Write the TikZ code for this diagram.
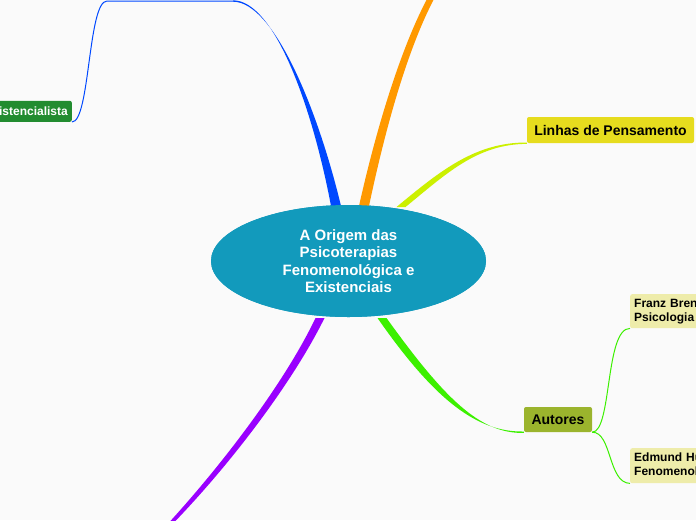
\documentclass[tikz,border=0pt]{standalone}
\usepackage{fontspec}
\setmainfont{Liberation Sans}
\usetikzlibrary{shapes.geometric,calc}
\definecolor{bgc}{RGB}{250,250,250}
\definecolor{centralc}{RGB}{18,154,188}
\definecolor{bluec}{RGB}{0,72,255}
\definecolor{orangec}{RGB}{255,153,0}
\definecolor{limec}{RGB}{204,240,0}
\definecolor{greenc}{RGB}{60,240,0}
\definecolor{purplec}{RGB}{153,0,255}
\definecolor{exisc}{RGB}{34,140,48}
\definecolor{linhasc}{RGB}{230,220,30}
\definecolor{autoresc}{RGB}{155,180,45}
\definecolor{palec}{RGB}{238,236,170}
\tikzset{
  topic/.style={rounded corners=2pt, inner sep=0pt, font=\bfseries\fontsize{14}{16}\selectfont, text=black},
  subtopic/.style={rounded corners=2pt, fill=palec, inner xsep=4pt, inner ysep=0pt, align=left,
     text width=112pt, font=\bfseries\fontsize{12}{14}\selectfont, text=black, anchor=north west},
  thinline/.style={line width=1pt},
  central/.style={ellipse, fill=centralc, minimum width=275pt, minimum height=112pt, inner sep=0pt,
      align=center, text=white, font=\bfseries\fontsize{15}{17.5}\selectfont},
}
\begin{document}
\begin{tikzpicture}[x=1pt,y=-1pt]
\useasboundingbox (0,0) rectangle (696,520);
\clip (0,0) rectangle (696,520);
\fill[bgc] (0,0) rectangle (696,520);

% nodes
\node[central] (c) at (348.5,261) {};
\node[topic, fill=linhasc, minimum width=167pt, minimum height=26pt] (lin) at (610.5,130) {Linhas de Pensamento};
\node[topic, fill=autoresc, minimum width=68pt, minimum height=25pt] (aut) at (558,419.5) {Autores};
\node[subtopic, minimum height=34pt] (fra) at (630,294) {Franz Brentano\\Psicologia};
\node[subtopic, minimum height=35pt] (edm) at (630,448) {Edmund Husserl\\Fenomenologia};
\node[rounded corners=2pt, fill=exisc, text=white, anchor=south east, inner xsep=4pt, inner ysep=0pt,
      minimum height=21pt, font=\bfseries\fontsize{12}{14}\selectfont] (exi) at (72,122) {Existencialista};

% named endpoints
\coordinate (bB) at (336,206);
\coordinate (bT) at (233,1);
\coordinate (bK) at (107,1);
\coordinate (oB) at (364,206);
\coordinate (oT) at (431,-2);
\coordinate (lB) at (401,207);
\coordinate (gB) at (382,318);
\coordinate (pB) at (320,318);
\coordinate (pT) at (172,522);

% blue branch (tapered)
\fill[bluec] ($(bB)+(-5,0)$) .. controls (313,110) and (275,0.3) .. ($(bT)+(0,-0.7)$)
   -- ($(bT)+(0,0.7)$) .. controls (274,1.7) and (318,110) .. ($(bB)+(5,0)$) -- cycle;
\draw[bluec, thinline] (exi.south east) .. controls (90,122) and (88,1) .. (bK) -- (bT);

% orange branch
\fill[orangec] ($(oB)+(-5,0)$) .. controls (376,130) and (400,50) .. ($(oT)+(-3.5,0)$)
   -- ($(oT)+(3.5,0)$) .. controls (407,50) and (385,130) .. ($(oB)+(5,0)$) -- cycle;

% lime branch
\fill[limec] ($(lB)+(-4.5,0)$) .. controls (440,171) and (475,142.3) .. ($(lin.south west)+(0,-0.7)$)
   -- ($(lin.south west)+(0,0.7)$) .. controls (477,144) and (446,174) .. ($(lB)+(4.5,0)$) -- cycle;

% green branch
\fill[greenc] ($(gB)+(-4.5,0)$) .. controls (436,402) and (478,432.3) .. ($(aut.south west)+(0,-0.7)$)
   -- ($(aut.south west)+(0,0.7)$) .. controls (480,434) and (444,398) .. ($(gB)+(4.5,0)$) -- cycle;

% purple branch
\fill[purplec] ($(pB)+(-4.5,0)$) .. controls (286,380) and (226,460) .. ($(pT)+(-2.5,0)$)
   -- ($(pT)+(2.5,0)$) .. controls (234,460) and (294,380) .. ($(pB)+(4.5,0)$) -- cycle;

% autores sub-connectors
\draw[greenc, thinline] (aut.south east) .. controls (612,432) and (605,328) .. (fra.south west);
\draw[greenc, thinline] (aut.south east) .. controls (612,432) and (608,483) .. (edm.south west);

% central topic on top of the branch ends
\node[central] at (c.center) {A Origem das\\Psicoterapias\\Fenomenológica e\\Existenciais};
\end{tikzpicture}
\end{document}
